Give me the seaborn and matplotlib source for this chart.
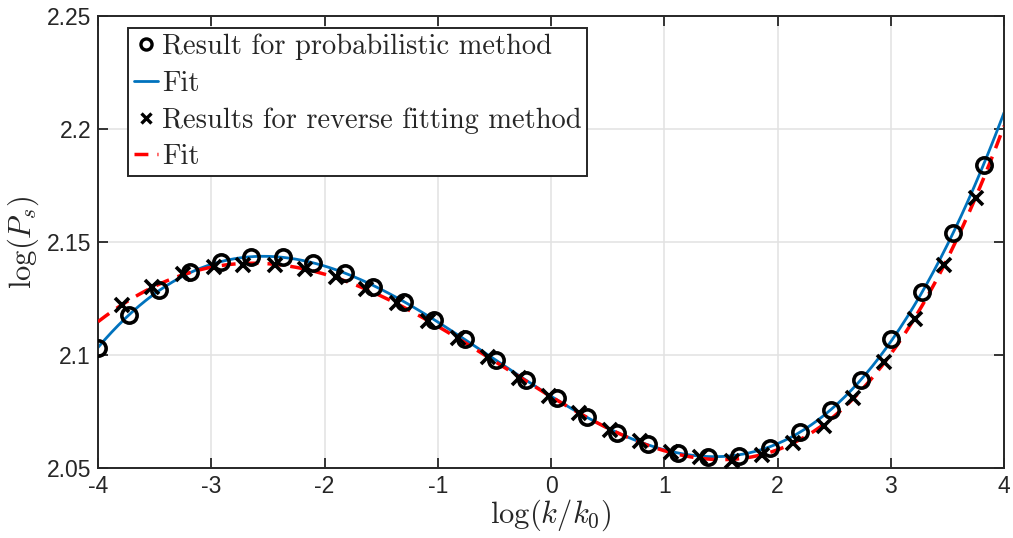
import numpy as np
import pandas as pd
import seaborn as sns
import matplotlib
matplotlib.use("Agg")
import matplotlib.pyplot as plt
from matplotlib.lines import Line2D

# ---- data ----
prob_x = [-4.00, -3.73, -3.46, -3.19, -2.91, -2.65, -2.37, -2.10, -1.82, -1.57,
          -1.30, -1.03, -0.76, -0.49, -0.22, 0.05, 0.32, 0.58, 0.86, 1.12,
          1.39, 1.66, 1.93, 2.20, 2.47, 2.74, 3.00, 3.28, 3.55, 3.82]
prob_y = [2.103, 2.1177, 2.1288, 2.1367, 2.1412, 2.1434, 2.1434, 2.1407, 2.1363, 2.1300,
          2.1235, 2.1155, 2.1070, 2.0978, 2.0890, 2.0810, 2.0726, 2.0655, 2.0606, 2.0566,
          2.0549, 2.0553, 2.0588, 2.0660, 2.0757, 2.0890, 2.1070, 2.1280, 2.1540, 2.1840]

rev_x = [-3.79, -3.52, -3.25, -2.98, -2.72, -2.44, -2.17, -1.90, -1.63, -1.36,
         -1.09, -0.82, -0.56, -0.28, -0.02, 0.25, 0.52, 0.79, 1.06, 1.32,
         1.60, 1.86, 2.14, 2.41, 2.67, 2.94, 3.21, 3.47, 3.75]
rev_y = [2.122, 2.130, 2.136, 2.139, 2.140, 2.140, 2.138, 2.1345, 2.129, 2.123,
         2.115, 2.1075, 2.099, 2.090, 2.082, 2.0743, 2.067, 2.062, 2.057, 2.0549,
         2.053, 2.0558, 2.061, 2.0686, 2.081, 2.097, 2.116, 2.140, 2.1695]

x_ticks = [-4, -3, -2, -1, 0, 1, 2, 3, 4]
y_ticks = [2.05, 2.10, 2.15, 2.20, 2.25]
y_tick_labels = ["2.05", "2.1", "2.15", "2.2", "2.25"]
legend_labels = ["Result for probabilistic method", "Fit",
                 "Results for reverse fitting method", "Fit"]

# ---- fits (polynomial fit of each data set) ----
xf = np.linspace(-4, 4, 400)
fit_prob = np.polyval(np.polyfit(prob_x, prob_y, 5), xf)
fit_rev = np.polyval(np.polyfit(rev_x, rev_y, 5), xf)

df_prob = pd.DataFrame({"x": prob_x, "y": prob_y})
df_rev = pd.DataFrame({"x": rev_x, "y": rev_y})
df_fp = pd.DataFrame({"x": xf, "y": fit_prob})
df_fr = pd.DataFrame({"x": xf, "y": fit_rev})

sns.set_theme(style="white")
plt.rcParams["font.family"] = ["Liberation Sans", "DejaVu Sans"]
plt.rcParams["mathtext.fontset"] = "cm"

fig = plt.figure(figsize=(10.13, 5.38), dpi=100)
ax = fig.add_axes([98 / 1013, 1 - 468 / 538, (1004 - 98) / 1013, (468 - 16) / 538])

blue = "#0072BD"
sns.lineplot(data=df_fp, x="x", y="y", ax=ax, color=blue, linewidth=2.0,
             sort=False, estimator=None, zorder=2)
sns.lineplot(data=df_fr, x="x", y="y", ax=ax, color="red", linewidth=2.5,
             sort=False, estimator=None, zorder=3, dashes=False)
ax.lines[-1].set_linestyle((0, (4, 2.6)))
sns.lineplot(data=df_prob, x="x", y="y", ax=ax, linestyle="", marker="o",
             markersize=11, markerfacecolor="none", markeredgecolor="black",
             markeredgewidth=2.6, sort=False, estimator=None, zorder=4)
sns.lineplot(data=df_rev, x="x", y="y", ax=ax, linestyle="", marker="x",
             markersize=10, markeredgecolor="black", color="black",
             markeredgewidth=2.6, sort=False, estimator=None, zorder=4)

ax.set_xlim(-4, 4)
ax.set_ylim(2.05, 2.25)
ax.set_xticks(x_ticks)
ax.set_xticklabels([str(t) for t in x_ticks])
ax.set_yticks(y_ticks)
ax.set_yticklabels(y_tick_labels)
ax.grid(True, color="#e2e2e2", linewidth=1.1)
ax.set_axisbelow(True)
for s in ax.spines.values():
    s.set_color("#262626")
    s.set_linewidth(1.4)
ax.tick_params(axis="both", which="both", direction="in", length=7, width=1.3,
               top=True, right=True, bottom=True, left=True,
               colors="#262626", labelsize=16.5, pad=5)
for lab in ax.get_xticklabels() + ax.get_yticklabels():
    lab.set_color("#262626")

ax.set_xlabel(r"$\log(k/k_0)$", fontsize=22, labelpad=0)
ax.set_ylabel(r"$\log(P_s)$", fontsize=22, labelpad=4)

handles = [
    Line2D([], [], linestyle="", marker="o", markersize=8, markerfacecolor="none",
           markeredgecolor="black", markeredgewidth=2.4),
    Line2D([], [], color=blue, linewidth=2.0),
    Line2D([], [], linestyle="", marker="x", markersize=7, color="black",
           markeredgewidth=2.4),
    Line2D([], [], color="red", linewidth=2.5, linestyle=(0, (4, 2.6))),
]
leg = ax.legend(handles, legend_labels, loc="upper left",
                bbox_to_anchor=((128 - 98) / 906, 1 - (28 - 16) / 452),
                prop={"family": "cmr10", "size": 20.5}, frameon=True,
                fancybox=False, framealpha=1, edgecolor="#262626",
                handlelength=0.85, handletextpad=0.15, borderpad=0.2,
                labelspacing=0.36, borderaxespad=0)
leg.get_frame().set_linewidth(1.4)

fig.savefig("out.png", dpi=100)
